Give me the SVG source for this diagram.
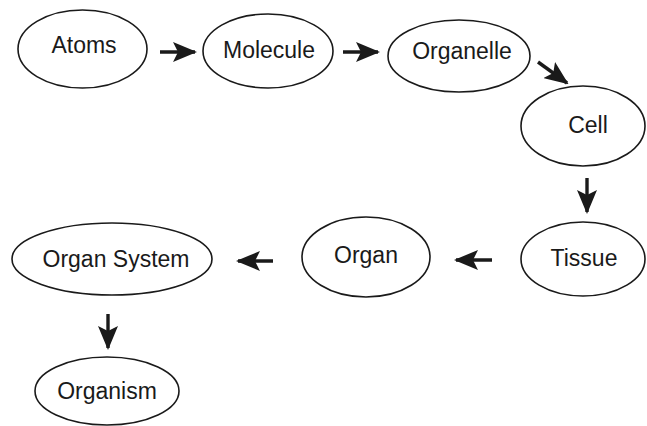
<svg xmlns="http://www.w3.org/2000/svg" width="647" height="426" viewBox="0 0 647 426">
<style>
ellipse{fill:#fff;stroke:#1a1a1a;stroke-width:1.6}
text{font-family:"Liberation Sans",Arial,sans-serif;font-size:23px;fill:#1a1a1a;text-anchor:middle}
.c line{stroke:#1a1a1a;stroke-width:3.4}
</style>
<defs>
<marker id="ah" viewBox="0 0 24 20" refX="22" refY="10" markerWidth="24" markerHeight="20" markerUnits="userSpaceOnUse" orient="auto">
<path d="M0,0 L24,10 L0,20 L5,10 Z" fill="#1a1a1a"/>
</marker>
</defs>
<rect width="647" height="426" fill="#fff"/>
<g id="atoms"><ellipse cx="82.5" cy="49" rx="64.5" ry="39"/><text x="84" y="53">Atoms</text></g>
<g id="molecule"><ellipse cx="268" cy="51" rx="65" ry="37"/><text x="269" y="58">Molecule</text></g>
<g id="organelle"><ellipse cx="459" cy="56" rx="71" ry="36"/><text x="462" y="59">Organelle</text></g>
<g id="cell"><ellipse cx="583" cy="126" rx="62" ry="40"/><text x="588" y="133">Cell</text></g>
<g id="tissue"><ellipse cx="583" cy="259" rx="62" ry="37"/><text x="584" y="266">Tissue</text></g>
<g id="organ"><ellipse cx="366" cy="257" rx="64" ry="40"/><text x="366" y="263">Organ</text></g>
<g id="organ-system"><ellipse cx="112" cy="259" rx="100" ry="36"/><text x="116" y="267">Organ System</text></g>
<g id="organism"><ellipse cx="107" cy="391" rx="72" ry="34"/><text x="107" y="399">Organism</text></g>
<g class="c" id="connectors">
<line x1="160" y1="52" x2="195" y2="52" marker-end="url(#ah)"/>
<line x1="343" y1="52" x2="378" y2="52" marker-end="url(#ah)"/>
<line x1="538" y1="62" x2="567" y2="83" marker-end="url(#ah)"/>
<line x1="587" y1="178" x2="587" y2="212" marker-end="url(#ah)"/>
<line x1="492" y1="260" x2="456" y2="260" marker-end="url(#ah)"/>
<line x1="273" y1="261" x2="238" y2="261" marker-end="url(#ah)"/>
<line x1="108" y1="314" x2="108" y2="348" marker-end="url(#ah)"/>
</g>
</svg>
